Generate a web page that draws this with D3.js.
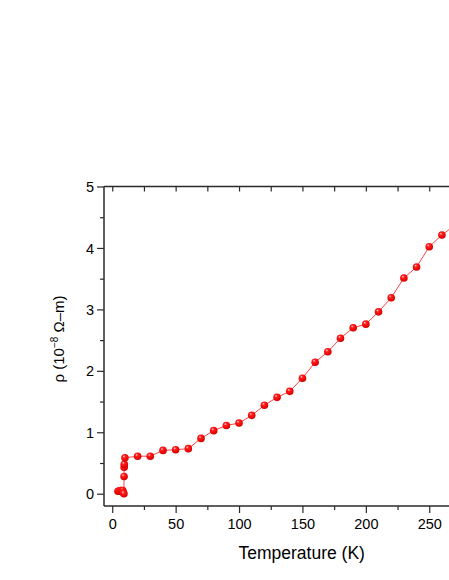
<!DOCTYPE html>
<html><head><meta charset="utf-8">
<script src="https://cdn.jsdelivr.net/npm/d3@7"></script>
<style>body{margin:0;background:#fff}svg{display:block}</style>
</head><body>
<svg id="c" width="449" height="580"></svg>
<script>
const temperature = [4.5,5.5,6.5,7.5,8.3,8.8,9.2,9.3,9.4,9.5,10,20,30,40,50,60,70,80,90,100,110,120,130,140,150,160,170,180,190,200,210,220,230,240,250,260,270,280];
const resistivity = [0.04,0.045,0.05,0.05,0.05,0.02,0.0,0.28,0.43,0.48,0.585,0.61,0.61,0.705,0.716,0.733,0.90,1.026,1.11,1.15,1.275,1.44,1.568,1.666,1.88,2.14,2.31,2.53,2.70,2.76,2.96,3.19,3.51,3.69,4.02,4.21,4.37,4.55];
const xTicksMajor = [0,50,100,150,200,250];
const yTicksMajor = [0,1,2,3,4,5];
const xLabel = "Temperature (K)";

const svg = d3.select("#c");
const defs = svg.append("defs");
const g = defs.append("radialGradient").attr("id","ball").attr("cx","0.45").attr("cy","0.4").attr("r","0.6").attr("fx","0.35").attr("fy","0.3");
g.append("stop").attr("offset","0").attr("stop-color","#ffd8d8");
g.append("stop").attr("offset","0.3").attr("stop-color","#ff2020");
g.append("stop").attr("offset","0.85").attr("stop-color","#e80000");
g.append("stop").attr("offset","1").attr("stop-color","#b80000");

const x = d3.scaleLinear().domain([-6.5, 290]).range([104, 104 + 296.5*1.268]);
const y = d3.scaleLinear().domain([-0.2, 5]).range([506, 186.5]);
const L = 104, R = x(290), T = 186.5, B = 506;
const axisColor = "#2a2a2a";
const font = "Liberation Sans, Arial, sans-serif";

// line
const pts = temperature.map((t,i)=>[t,resistivity[i]]);
svg.append("path").datum(pts)
  .attr("d", d3.line().x(d=>x(d[0])).y(d=>y(d[1])))
  .attr("fill","none").attr("stroke","#ff3030").attr("stroke-width",0.9);
svg.append("g").selectAll("circle").data(pts).join("circle")
  .attr("cx",d=>x(d[0])).attr("cy",d=>y(d[1])).attr("r",3.8)
  .attr("fill","url(#ball)");

// bottom axis
const xMinor = d3.range(0, 290, 25);
const bx = svg.append("g").attr("transform",`translate(0,${B})`)
  .call(d3.axisBottom(x).tickValues(xMinor).tickSize(4).tickFormat(""));
bx.selectAll(".tick line").attr("stroke",axisColor).attr("stroke-width",1.2)
  .attr("y2", d=> d%50===0 ? 7 : 4);
bx.select(".domain").remove();
bx.selectAll(".tick").filter(d=>xTicksMajor.includes(d)).append("text")
  .attr("y", 22.5).attr("fill","#000").attr("text-anchor","middle")
  .style("font-family",font).style("font-size","14.5px").text(d=>d);

// top axis ticks inward
const tx = svg.append("g").attr("transform",`translate(0,${T})`)
  .call(d3.axisBottom(x).tickValues(xMinor).tickSize(5).tickFormat(""));
tx.selectAll(".tick line").attr("stroke",axisColor).attr("stroke-width",1.2);
tx.select(".domain").remove();

// left axis
const yMinor = d3.range(0, 5.01, 0.5);
const ly = svg.append("g").attr("transform",`translate(${L},0)`)
  .call(d3.axisLeft(y).tickValues(yMinor).tickSize(4).tickFormat(""));
ly.selectAll(".tick line").attr("stroke",axisColor).attr("stroke-width",1.2)
  .attr("x2", d=> Math.abs(d-Math.round(d))<1e-6 ? -7 : -4);
ly.select(".domain").remove();
ly.selectAll(".tick").filter(d=>Math.abs(d-Math.round(d))<1e-6 && yTicksMajor.includes(Math.round(d))).append("text")
  .attr("x", -10).attr("dy","0.35em").attr("fill","#000").attr("text-anchor","end")
  .style("font-family",font).style("font-size","14.5px").text(d=>d);

// frame lines
svg.append("line").attr("x1",L).attr("x2",L).attr("y1",T).attr("y2",B).attr("stroke",axisColor).attr("stroke-width",1.5);
svg.append("line").attr("x1",L).attr("x2",R).attr("y1",B).attr("y2",B).attr("stroke",axisColor).attr("stroke-width",1.5);
svg.append("line").attr("x1",L).attr("x2",R).attr("y1",T).attr("y2",T).attr("stroke",axisColor).attr("stroke-width",1.5);

// x label
svg.append("text").attr("x",301.7).attr("y",559).attr("text-anchor","middle")
  .style("font-family",font).style("font-size","17.5px").text(xLabel);

// y label
const yl = svg.append("text").attr("transform","translate(64,339) rotate(-90)")
  .attr("text-anchor","middle").style("font-family",font).style("font-size","15px");
yl.append("tspan").text("\u03C1 (10");
yl.append("tspan").attr("dy","-6").style("font-size","10px").text("\u22128");
yl.append("tspan").attr("dy","6").text(" \u03A9\u2013m)");
</script>
</body></html>
